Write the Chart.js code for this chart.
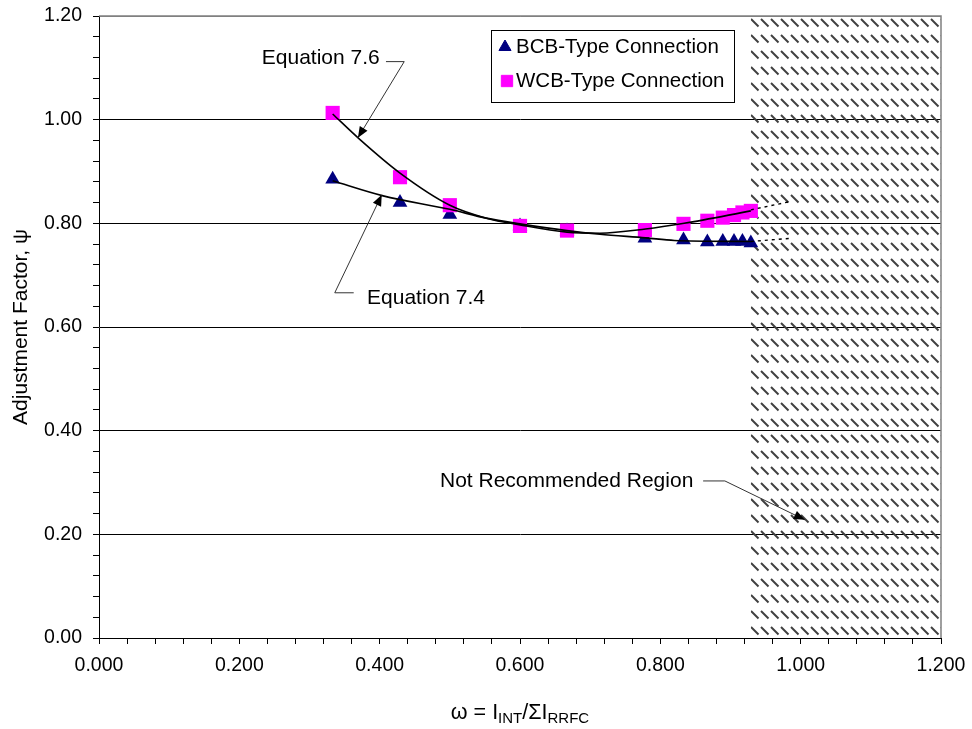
<!DOCTYPE html>
<html lang="en">
<head>
<meta charset="UTF-8">
<script src="https://cdn.jsdelivr.net/npm/chart.js"></script>
<style>
  html, body { margin: 0; padding: 0; background: #fff; }
</style>
</head>
<body>
<canvas id="chart" width="972" height="729"></canvas>
<script>
// measured points
const bcbOmega = [0.333, 0.429, 0.500, 0.600, 0.667, 0.778, 0.833, 0.867, 0.889, 0.905, 0.917, 0.929];
const bcbPsi   = [0.885, 0.840, 0.817, 0.795, 0.785, 0.771, 0.768, 0.764, 0.765, 0.765, 0.765, 0.762];
const wcbOmega = [0.333, 0.429, 0.500, 0.600, 0.667, 0.778, 0.833, 0.867, 0.889, 0.905, 0.917, 0.929];
const wcbPsi   = [1.013, 0.889, 0.835, 0.795, 0.786, 0.787, 0.799, 0.805, 0.811, 0.816, 0.821, 0.824];

// fitted curves
const eq74Omega = [0.333, 0.405, 0.500, 0.552, 0.600, 0.667, 0.714, 0.779, 0.820, 0.929];
const eq74Psi   = [0.882, 0.853, 0.827, 0.810, 0.799, 0.786, 0.779, 0.772, 0.767, 0.765];
const eq76Omega = [0.333, 0.370, 0.429, 0.500, 0.552, 0.600, 0.667, 0.714, 0.779, 0.834, 0.929];
const eq76Psi   = [1.011, 0.964, 0.897, 0.835, 0.810, 0.797, 0.783, 0.781, 0.789, 0.800, 0.824];
const extOmega  = [0.929, 0.985];
const eq74ExtPsi = [0.765, 0.771];
const eq76ExtPsi = [0.826, 0.842];

const regionStart = 0.929;
const xMajorTicks = [0, 0.2, 0.4, 0.6, 0.8, 1.0, 1.2];
const yMajorTicks = [0, 0.2, 0.4, 0.6, 0.8, 1.0, 1.2];

const FONT = '"Liberation Sans", Arial, sans-serif';

function pts(xs, ys) {
    return xs.map((x, i) => ({ x: x, y: ys[i] }));
}

function isMajor(v, majors) {
    return majors.some(m => Math.abs(m - v) < 1e-6);
}

function minorTicks(max, step) {
    const out = [];
    for (let i = 0; i * step <= max + 1e-9; i++) out.push({ value: +(i * step).toFixed(4) });
    return out;
}

function hatchPattern(ctx) {
    const c = document.createElement('canvas');
    c.width = 10; c.height = 16;
    const g = c.getContext('2d');
    g.strokeStyle = '#404040';
    g.lineWidth = 1.9;
    g.beginPath();
    g.moveTo(1, 3);
    g.lineTo(8.5, 10.5);
    g.stroke();
    return ctx.createPattern(c, 'repeat');
}

function arrowHead(ctx, fx, fy, tx, ty) {
    const ang = Math.atan2(ty - fy, tx - fx);
    const len = 11, w = 4.5;
    ctx.beginPath();
    ctx.moveTo(tx, ty);
    ctx.lineTo(tx - len * Math.cos(ang) + w * Math.sin(ang), ty - len * Math.sin(ang) - w * Math.cos(ang));
    ctx.lineTo(tx - len * Math.cos(ang) - w * Math.sin(ang), ty - len * Math.sin(ang) + w * Math.cos(ang));
    ctx.closePath();
    ctx.fill();
}

const notes = [
    { text: 'Equation 7.6', at: [0.232, 1.119], path: [[0.409, 1.112], [0.435, 1.112], [0.369, 0.965]] },
    { text: 'Equation 7.4', at: [0.382, 0.656], path: [[0.363, 0.666], [0.336, 0.666], [0.403, 0.855]] },
    { text: 'Not Recommended Region', at: [0.486, 0.303], path: [[0.861, 0.303], [0.892, 0.303], [1.006, 0.228]] }
];

const decor = {
    id: 'decor',
    beforeDatasetsDraw(chart) {
        const { ctx, chartArea: a, scales: { x } } = chart;
        const x0 = x.getPixelForValue(regionStart);
        ctx.save();
        ctx.fillStyle = hatchPattern(ctx);
        ctx.fillRect(x0, a.top, a.right - x0, a.bottom - a.top);
        ctx.strokeStyle = '#808080';
        ctx.lineWidth = 1.5;
        ctx.beginPath();
        ctx.moveTo(a.left, a.top);
        ctx.lineTo(a.right, a.top);
        ctx.lineTo(a.right, a.bottom);
        ctx.stroke();
        ctx.restore();
    },
    afterDraw(chart) {
        const { ctx, chartArea: a, scales: { x, y } } = chart;
        ctx.save();
        ctx.font = '21px ' + FONT;
        ctx.fillStyle = '#000';
        ctx.textBaseline = 'middle';

        // annotations
        notes.forEach(n => {
            ctx.textAlign = 'left';
            ctx.fillText(n.text, x.getPixelForValue(n.at[0]), y.getPixelForValue(n.at[1]));
            const p = n.path.map(q => [x.getPixelForValue(q[0]), y.getPixelForValue(q[1])]);
            ctx.strokeStyle = '#333';
            ctx.lineWidth = 1;
            ctx.beginPath();
            ctx.moveTo(p[0][0], p[0][1]);
            for (let i = 1; i < p.length; i++) ctx.lineTo(p[i][0], p[i][1]);
            ctx.stroke();
            const l = p.length - 1;
            arrowHead(ctx, p[l - 1][0], p[l - 1][1], p[l][0], p[l][1]);
        });

        // legend box
        const lx = 491, ly = 30, lw = 243, lh = 72;
        ctx.fillStyle = '#fff';
        ctx.fillRect(lx, ly, lw, lh);
        ctx.strokeStyle = '#000';
        ctx.lineWidth = 1;
        ctx.strokeRect(lx + 0.5, ly + 0.5, lw, lh);
        ctx.fillStyle = '#000080';
        ctx.strokeStyle = '#000080';
        Chart.helpers.drawPoint(ctx, { pointStyle: 'triangle', radius: 7, borderWidth: 1 }, lx + 14, ly + 17);
        ctx.fillStyle = '#ff00ff';
        ctx.strokeStyle = '#ff00ff';
        Chart.helpers.drawPoint(ctx, { pointStyle: 'rect', radius: 8, borderWidth: 1 }, lx + 16, ly + 51);
        ctx.fillStyle = '#000';
        ctx.textAlign = 'left';
        ctx.font = '20.5px ' + FONT;
        ctx.fillText('BCB-Type Connection', lx + 25, ly + 17);
        ctx.fillText('WCB-Type Connection', lx + 25, ly + 51);

        // y title
        ctx.font = '21px ' + FONT;
        ctx.save();
        ctx.translate(21, (a.top + a.bottom) / 2);
        ctx.rotate(-Math.PI / 2);
        ctx.textAlign = 'center';
        ctx.fillText('Adjustment Factor, \u03c8', 0, 0);
        ctx.restore();

        // x title with subscripts
        const parts = [['\u03c9 = I', false], ['INT', true], ['/\u03a3I', false], ['RRFC', true]];
        const big = '21.5px ' + FONT, small = '15px ' + FONT;
        let total = 0;
        parts.forEach(pt => { ctx.font = pt[1] ? small : big; total += ctx.measureText(pt[0]).width; });
        let cx = (a.left + a.right) / 2 - total / 2;
        const base = 719;
        ctx.textBaseline = 'alphabetic';
        parts.forEach(pt => {
            ctx.font = pt[1] ? small : big;
            ctx.fillText(pt[0], cx, pt[1] ? base + 4 : base);
            cx += ctx.measureText(pt[0]).width;
        });
        ctx.restore();
    }
};

const curveStyle = {
    showLine: true, pointRadius: 0, borderColor: '#000', borderWidth: 1.6,
    cubicInterpolationMode: 'monotone', fill: false
};
const extStyle = {
    showLine: true, pointRadius: 0, borderColor: '#000', borderWidth: 1.4,
    borderDash: [3, 4], fill: false
};

new Chart(document.getElementById('chart'), {
    type: 'scatter',
    data: {
        datasets: [
            Object.assign({ label: 'Equation 7.6', data: pts(eq76Omega, eq76Psi) }, curveStyle),
            Object.assign({ label: 'Equation 7.4', data: pts(eq74Omega, eq74Psi) }, curveStyle),
            Object.assign({ label: '7.6 ext', data: pts(extOmega, eq76ExtPsi) }, extStyle),
            Object.assign({ label: '7.4 ext', data: pts(extOmega, eq74ExtPsi) }, extStyle),
            {
                label: 'WCB-Type Connection', data: pts(wcbOmega, wcbPsi),
                pointStyle: 'rect', pointRadius: 10, pointBackgroundColor: '#ff00ff',
                pointBorderColor: '#ff00ff', pointBorderWidth: 0
            },
            {
                label: 'BCB-Type Connection', data: pts(bcbOmega, bcbPsi),
                pointStyle: 'triangle', pointRadius: 8.5, pointBackgroundColor: '#000080',
                pointBorderColor: '#000080', pointBorderWidth: 0
            }
        ]
    },
    options: {
        responsive: false,
        animation: false,
        layout: { autoPadding: false, padding: { left: 0, right: 31, top: 16, bottom: 0 } },
        plugins: { legend: { display: false }, tooltip: { enabled: false } },
        scales: {
            x: {
                type: 'linear', min: 0, max: 1.2,
                afterBuildTicks: s => { s.ticks = minorTicks(1.2, 0.04); },
                afterFit: s => {
                    s.height = 91;
                    s.paddingLeft = 0; s.paddingRight = 0;
                },
                grid: { drawOnChartArea: false, tickLength: 6, tickColor: '#000', color: '#000' },
                border: { color: '#000', width: 1 },
                ticks: {
                    autoSkip: false, maxRotation: 0, padding: 10, color: '#000',
                    font: { family: FONT, size: 19.5 },
                    callback: v => isMajor(v, xMajorTicks) ? v.toFixed(3) : ''
                }
            },
            y: {
                type: 'linear', min: 0, max: 1.2,
                afterBuildTicks: s => { s.ticks = minorTicks(1.2, 0.04); },
                afterFit: s => {
                    s.width = 99;
                    s.paddingTop = 0; s.paddingBottom = 0;
                },
                grid: {
                    tickLength: 6, tickColor: '#000', lineWidth: 1,
                    color: c => {
                        const v = c.tick ? c.tick.value : -1;
                        if (!isMajor(v, yMajorTicks)) return 'rgba(0,0,0,0)';
                        return Math.abs(v - 1.2) < 1e-6 ? '#808080' : '#000';
                    }
                },
                border: { color: '#000', width: 1 },
                ticks: {
                    autoSkip: false, padding: 11, color: '#000',
                    font: { family: FONT, size: 19.5 },
                    callback: v => isMajor(v, yMajorTicks) ? v.toFixed(2) : ''
                }
            }
        }
    },
    plugins: [decor]
});
</script>
</body>
</html>
